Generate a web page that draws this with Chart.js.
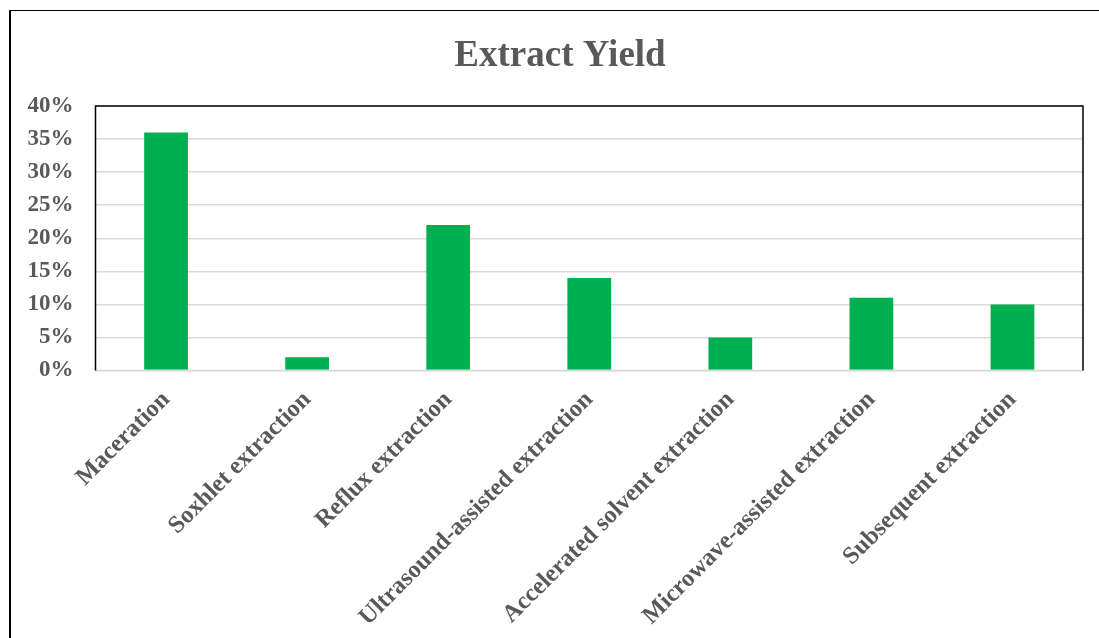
<!DOCTYPE html>
<html>
<head>
<meta charset="utf-8">
<script src="https://cdn.jsdelivr.net/npm/chart.js@4/dist/chart.umd.min.js"></script>
<style>
  html, body { margin: 0; padding: 0; background: #fff; width: 1099px; height: 638px; overflow: hidden; }
  #frame { position: absolute; left: 9px; top: 10px; width: 1100px; height: 640px;
           border-left: 2px solid #000; border-top: 1.5px solid #000; box-sizing: border-box; }
  #c { position: absolute; left: 0; top: 0; }
</style>
</head>
<body>
<div id="frame"></div>
<canvas id="c" width="1099" height="638"></canvas>
<script>
// Extraction methods and their extract yields (%)
const categories = [
  'Maceration',
  'Soxhlet extraction',
  'Reflux extraction',
  'Ultrasound-assisted extraction',
  'Accelerated solvent extraction',
  'Microwave-assisted extraction',
  'Subsequent extraction'
];
const yieldPercent = [36, 2, 22, 14, 5, 11, 10];
const yTicks = [0, 5, 10, 15, 20, 25, 30, 35, 40];

const TEXT = '#595959';
const FONT = '"Liberation Serif", "Times New Roman", serif';

const PAD_LEFT = 24;
const PLOT_LEFT = 95.5;
const PLOT_BOTTOM = 370.5;

// Black frame around the plotting area (top, left, right); baseline stays grey
const plotFrame = {
  id: 'plotFrame',
  afterDatasetsDraw(chart) {
    const a = chart.chartArea;
    const ctx = chart.ctx;
    ctx.save();
    ctx.strokeStyle = '#D9D9D9';
    ctx.lineWidth = 1.5;
    ctx.beginPath();
    ctx.moveTo(a.left, a.bottom);
    ctx.lineTo(a.right, a.bottom);
    ctx.stroke();
    ctx.strokeStyle = '#000';
    ctx.lineWidth = 1.5;
    ctx.beginPath();
    ctx.moveTo(a.left, a.bottom);
    ctx.lineTo(a.left, a.top);
    ctx.lineTo(a.right, a.top);
    ctx.lineTo(a.right, a.bottom);
    ctx.stroke();
    ctx.restore();
  }
};

new Chart(document.getElementById('c'), {
  type: 'bar',
  data: {
    labels: categories,
    datasets: [{
      label: 'Extract Yield',
      data: yieldPercent,
      backgroundColor: '#00B050',
      borderWidth: 0,
      barPercentage: 0.31,
      categoryPercentage: 1.0
    }]
  },
  options: {
    responsive: false,
    animation: false,
    layout: { padding: { left: PAD_LEFT, right: 3, top: 10, bottom: 0 } },
    plugins: {
      legend: { display: false },
      tooltip: { enabled: false },
      title: {
        display: true,
        text: 'Extract Yield',
        color: TEXT,
        font: { family: FONT, size: 37, weight: 'bold' },
        padding: { top: 23.8, bottom: 27.8 }
      }
    },
    scales: {
      x: {
        grid: { display: false, drawTicks: false },
        border: { display: false },
        ticks: {
          color: TEXT,
          font: { family: FONT, size: 24.5, weight: 'bold' },
          minRotation: 45,
          maxRotation: 45,
          padding: 15,
          autoSkip: false
        },
        afterFit(scale) { scale.height = 638 - PLOT_BOTTOM; }
      },
      y: {
        min: 0,
        max: 40,
        afterBuildTicks(scale) { scale.ticks = yTicks.map(v => ({ value: v })); },
        grid: { color: '#D9D9D9', lineWidth: 1.5, drawTicks: false },
        border: { display: false },
        ticks: {
          color: TEXT,
          font: { family: FONT, size: 23, weight: 'bold' },
          padding: 22,
          callback: v => v + '%'
        },
        afterFit(scale) { scale.width = PLOT_LEFT - PAD_LEFT; }
      },
      // empty right-hand spacer keeps the plot frame clear of the chart edge
      spacer: {
        type: 'linear',
        position: 'right',
        grid: { display: false, drawTicks: false },
        border: { display: false },
        ticks: { display: false },
        afterFit(scale) { scale.width = 13; }
      }
    }
  },
  plugins: [plotFrame]
});
</script>
</body>
</html>
